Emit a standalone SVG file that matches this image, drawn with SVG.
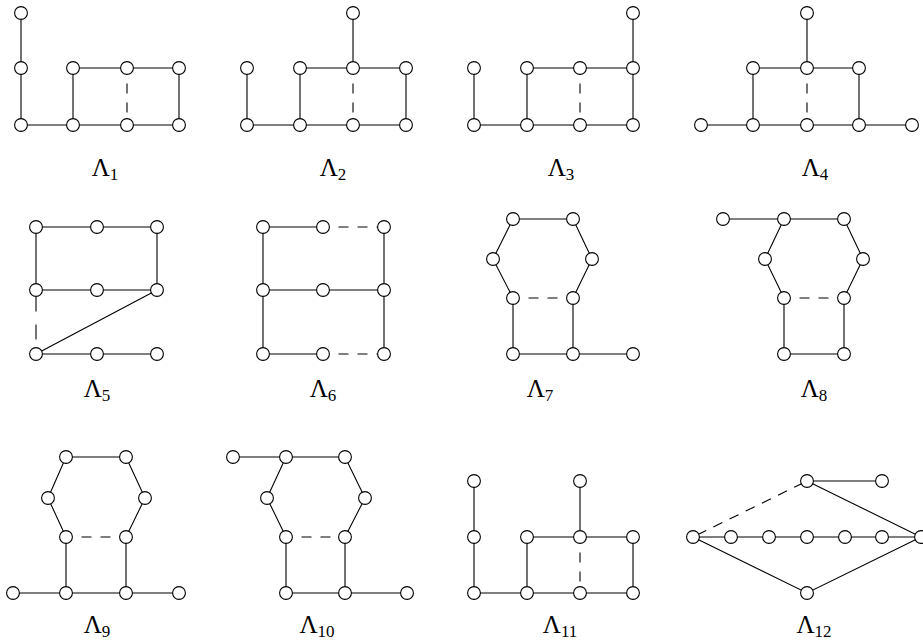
<svg xmlns="http://www.w3.org/2000/svg" width="923" height="641" viewBox="0 0 923 641">
<style>
.e{stroke:#000;stroke-width:1.1;fill:none}
.d{stroke:#000;stroke-width:1.1;fill:none;stroke-dasharray:10 9;stroke-dashoffset:10}
.n circle{fill:#fff;stroke:#000;stroke-width:1.1}
.lab{font-family:"Liberation Serif","DejaVu Serif",serif;font-size:25px;fill:#000}
.sub{font-size:17px}
</style>
<rect width="923" height="641" fill="#fff"/>

<!-- Lambda 1 -->
<g id="L1">
<g class="edges">
<path class="e" d="M21,13V125H179M73,68H179M73,68V125M179,68V125"/>
<path class="d" d="M127,74.5V118.5"/>
</g>
<g class="n">
<circle id="L1n1" cx="21" cy="13" r="6.4"/><circle id="L1n2" cx="21" cy="68" r="6.4"/><circle id="L1n3" cx="21" cy="125" r="6.4"/>
<circle id="L1n4" cx="73" cy="68" r="6.4"/><circle id="L1n5" cx="127" cy="68" r="6.4"/><circle id="L1n6" cx="179" cy="68" r="6.4"/>
<circle id="L1n7" cx="73" cy="125" r="6.4"/><circle id="L1n8" cx="127" cy="125" r="6.4"/><circle id="L1n9" cx="179" cy="125" r="6.4"/>
</g>
<text class="lab" x="105" y="176" text-anchor="middle">Λ<tspan class="sub" dy="4">1</tspan></text>
</g>

<!-- Lambda 2 -->
<g id="L2">
<g class="edges">
<path class="e" d="M247,68V125H406M300,68H406M300,68V125M406,68V125M353,13V68"/>
<path class="d" d="M353,74.5V118.5"/>
</g>
<g class="n">
<circle id="L2n1" cx="353" cy="13" r="6.4"/><circle id="L2n2" cx="247" cy="68" r="6.4"/><circle id="L2n3" cx="247" cy="125" r="6.4"/>
<circle id="L2n4" cx="300" cy="68" r="6.4"/><circle id="L2n5" cx="353" cy="68" r="6.4"/><circle id="L2n6" cx="406" cy="68" r="6.4"/>
<circle id="L2n7" cx="300" cy="125" r="6.4"/><circle id="L2n8" cx="353" cy="125" r="6.4"/><circle id="L2n9" cx="406" cy="125" r="6.4"/>
</g>
<text class="lab" x="333" y="176" text-anchor="middle">Λ<tspan class="sub" dy="4">2</tspan></text>
</g>

<!-- Lambda 3 -->
<g id="L3">
<g class="edges">
<path class="e" d="M474,68V125H633M527,68H633M527,68V125M633,13V125"/>
<path class="d" d="M580,74.5V118.5"/>
</g>
<g class="n">
<circle id="L3n1" cx="633" cy="13" r="6.4"/><circle id="L3n2" cx="474" cy="68" r="6.4"/><circle id="L3n3" cx="474" cy="125" r="6.4"/>
<circle id="L3n4" cx="527" cy="68" r="6.4"/><circle id="L3n5" cx="580" cy="68" r="6.4"/><circle id="L3n6" cx="633" cy="68" r="6.4"/>
<circle id="L3n7" cx="527" cy="125" r="6.4"/><circle id="L3n8" cx="580" cy="125" r="6.4"/><circle id="L3n9" cx="633" cy="125" r="6.4"/>
</g>
<text class="lab" x="561" y="176" text-anchor="middle">Λ<tspan class="sub" dy="4">3</tspan></text>
</g>

<!-- Lambda 4 -->
<g id="L4">
<g class="edges">
<path class="e" d="M701,125H912M753,68H859M753,68V125M859,68V125M807,13V68"/>
<path class="d" d="M807,74.5V118.5"/>
</g>
<g class="n">
<circle id="L4n1" cx="807" cy="13" r="6.4"/>
<circle id="L4n2" cx="753" cy="68" r="6.4"/><circle id="L4n3" cx="807" cy="68" r="6.4"/><circle id="L4n4" cx="859" cy="68" r="6.4"/>
<circle id="L4n5" cx="701" cy="125" r="6.4"/><circle id="L4n6" cx="753" cy="125" r="6.4"/><circle id="L4n7" cx="807" cy="125" r="6.4"/><circle id="L4n8" cx="859" cy="125" r="6.4"/><circle id="L4n9" cx="912" cy="125" r="6.4"/>
</g>
<text class="lab" x="815" y="176" text-anchor="middle">Λ<tspan class="sub" dy="4">4</tspan></text>
</g>

<!-- Lambda 5 -->
<g id="L5">
<g class="edges">
<path class="e" d="M36,290V227H157V290H36M157,290L36,354H157"/>
<path class="e" style="stroke-dasharray:15 13" d="M36,296.5V347.5"/>
</g>
<g class="n">
<circle id="L5n1" cx="36" cy="227" r="6.4"/><circle id="L5n2" cx="97" cy="227" r="6.4"/><circle id="L5n3" cx="157" cy="227" r="6.4"/>
<circle id="L5n4" cx="36" cy="290" r="6.4"/><circle id="L5n5" cx="97" cy="290" r="6.4"/><circle id="L5n6" cx="157" cy="290" r="6.4"/>
<circle id="L5n7" cx="36" cy="354" r="6.4"/><circle id="L5n8" cx="97" cy="354" r="6.4"/><circle id="L5n9" cx="157" cy="354" r="6.4"/>
</g>
<text class="lab" x="97" y="397" text-anchor="middle">Λ<tspan class="sub" dy="4">5</tspan></text>
</g>

<!-- Lambda 6 -->
<g id="L6">
<g class="edges">
<path class="e" d="M323,227H263V354H323M263,290H384M384,227V354"/>
<path class="d" d="M329.5,227H377.5M329.5,354H377.5"/>
</g>
<g class="n">
<circle id="L6n1" cx="263" cy="227" r="6.4"/><circle id="L6n2" cx="323" cy="227" r="6.4"/><circle id="L6n3" cx="384" cy="227" r="6.4"/>
<circle id="L6n4" cx="263" cy="290" r="6.4"/><circle id="L6n5" cx="323" cy="290" r="6.4"/><circle id="L6n6" cx="384" cy="290" r="6.4"/>
<circle id="L6n7" cx="263" cy="354" r="6.4"/><circle id="L6n8" cx="323" cy="354" r="6.4"/><circle id="L6n9" cx="384" cy="354" r="6.4"/>
</g>
<text class="lab" x="323" y="397" text-anchor="middle">Λ<tspan class="sub" dy="4">6</tspan></text>
</g>

<!-- Lambda 7 -->
<g id="L7">
<g class="edges">
<path class="e" d="M513,298L493,259L513,219H573L592,259L573,298M513,298V354H633M573,298V354"/>
<path class="d" d="M519.5,298H566.5"/>
</g>
<g class="n">
<circle id="L7n1" cx="513" cy="219" r="6.4"/><circle id="L7n2" cx="573" cy="219" r="6.4"/>
<circle id="L7n3" cx="493" cy="259" r="6.4"/><circle id="L7n4" cx="592" cy="259" r="6.4"/>
<circle id="L7n5" cx="513" cy="298" r="6.4"/><circle id="L7n6" cx="573" cy="298" r="6.4"/>
<circle id="L7n7" cx="513" cy="354" r="6.4"/><circle id="L7n8" cx="573" cy="354" r="6.4"/><circle id="L7n9" cx="633" cy="354" r="6.4"/>
</g>
<text class="lab" x="540" y="397" text-anchor="middle">Λ<tspan class="sub" dy="4">7</tspan></text>
</g>

<!-- Lambda 8 -->
<g id="L8">
<g class="edges">
<path class="e" d="M784,298L765,259L784,219M723,219H844L863,259L844,298M784,298V354H844V298"/>
<path class="d" d="M790.5,298H837.5"/>
</g>
<g class="n">
<circle id="L8n1" cx="723" cy="219" r="6.4"/><circle id="L8n2" cx="784" cy="219" r="6.4"/><circle id="L8n3" cx="844" cy="219" r="6.4"/>
<circle id="L8n4" cx="765" cy="259" r="6.4"/><circle id="L8n5" cx="863" cy="259" r="6.4"/>
<circle id="L8n6" cx="784" cy="298" r="6.4"/><circle id="L8n7" cx="844" cy="298" r="6.4"/>
<circle id="L8n8" cx="784" cy="354" r="6.4"/><circle id="L8n9" cx="844" cy="354" r="6.4"/>
</g>
<text class="lab" x="814" y="397" text-anchor="middle">Λ<tspan class="sub" dy="4">8</tspan></text>
</g>

<!-- Lambda 9 -->
<g id="L9">
<g class="edges">
<path class="e" d="M66,537L48,498L66,457H126L145,498L126,537M66,537V593M126,537V593M13,593H179"/>
<path class="d" d="M72.5,537H119.5"/>
</g>
<g class="n">
<circle id="L9n1" cx="66" cy="457" r="6.4"/><circle id="L9n2" cx="126" cy="457" r="6.4"/>
<circle id="L9n3" cx="48" cy="498" r="6.4"/><circle id="L9n4" cx="145" cy="498" r="6.4"/>
<circle id="L9n5" cx="66" cy="537" r="6.4"/><circle id="L9n6" cx="126" cy="537" r="6.4"/>
<circle id="L9n7" cx="13" cy="593" r="6.4"/><circle id="L9n8" cx="66" cy="593" r="6.4"/><circle id="L9n9" cx="126" cy="593" r="6.4"/><circle id="L9n10" cx="179" cy="593" r="6.4"/>
</g>
<text class="lab" x="97" y="633" text-anchor="middle">Λ<tspan class="sub" dy="4">9</tspan></text>
</g>

<!-- Lambda 10 -->
<g id="L10">
<g class="edges">
<path class="e" d="M286,537L267,498L286,457M233,457H345L365,498L345,537M286,537V593H407M345,537V593"/>
<path class="d" d="M292.5,537H338.5"/>
</g>
<g class="n">
<circle id="L10n1" cx="233" cy="457" r="6.4"/><circle id="L10n2" cx="286" cy="457" r="6.4"/><circle id="L10n3" cx="345" cy="457" r="6.4"/>
<circle id="L10n4" cx="267" cy="498" r="6.4"/><circle id="L10n5" cx="365" cy="498" r="6.4"/>
<circle id="L10n6" cx="286" cy="537" r="6.4"/><circle id="L10n7" cx="345" cy="537" r="6.4"/>
<circle id="L10n8" cx="286" cy="593" r="6.4"/><circle id="L10n9" cx="345" cy="593" r="6.4"/><circle id="L10n10" cx="407" cy="593" r="6.4"/>
</g>
<text class="lab" x="317" y="633" text-anchor="middle">Λ<tspan class="sub" dy="4">10</tspan></text>
</g>

<!-- Lambda 11 -->
<g id="L11">
<g class="edges">
<path class="e" d="M474,481V593H633M527,537H633M527,537V593M633,537V593M580,481V537"/>
<path class="d" d="M580,543.5V586.5"/>
</g>
<g class="n">
<circle id="L11n1" cx="474" cy="481" r="6.4"/><circle id="L11n2" cx="580" cy="481" r="6.4"/>
<circle id="L11n3" cx="474" cy="537" r="6.4"/><circle id="L11n4" cx="527" cy="537" r="6.4"/><circle id="L11n5" cx="580" cy="537" r="6.4"/><circle id="L11n6" cx="633" cy="537" r="6.4"/>
<circle id="L11n7" cx="474" cy="593" r="6.4"/><circle id="L11n8" cx="527" cy="593" r="6.4"/><circle id="L11n9" cx="580" cy="593" r="6.4"/><circle id="L11n10" cx="633" cy="593" r="6.4"/>
</g>
<text class="lab" x="560" y="633" text-anchor="middle">Λ<tspan class="sub" dy="4">11</tspan></text>
</g>

<!-- Lambda 12 -->
<g id="L12">
<g class="edges">
<path class="e" d="M693,537H921M882,481H807L921,537L807,593L693,537"/>
<path class="e" style="stroke-dasharray:10 8;stroke-dashoffset:2" d="M699,534L801,484"/>
</g>
<g class="n">
<circle id="L12n1" cx="807" cy="481" r="6.4"/><circle id="L12n2" cx="882" cy="481" r="6.4"/>
<circle id="L12n3" cx="693" cy="537" r="6.4"/><circle id="L12n4" cx="731" cy="537" r="6.4"/><circle id="L12n5" cx="769" cy="537" r="6.4"/><circle id="L12n6" cx="807" cy="537" r="6.4"/>
<circle id="L12n7" cx="845" cy="537" r="6.4"/><circle id="L12n8" cx="882" cy="537" r="6.4"/><circle id="L12n9" cx="921" cy="537" r="6.4"/>
<circle id="L12n10" cx="807" cy="593" r="6.4"/>
</g>
<text class="lab" x="814" y="633" text-anchor="middle">Λ<tspan class="sub" dy="4">12</tspan></text>
</g>
</svg>
